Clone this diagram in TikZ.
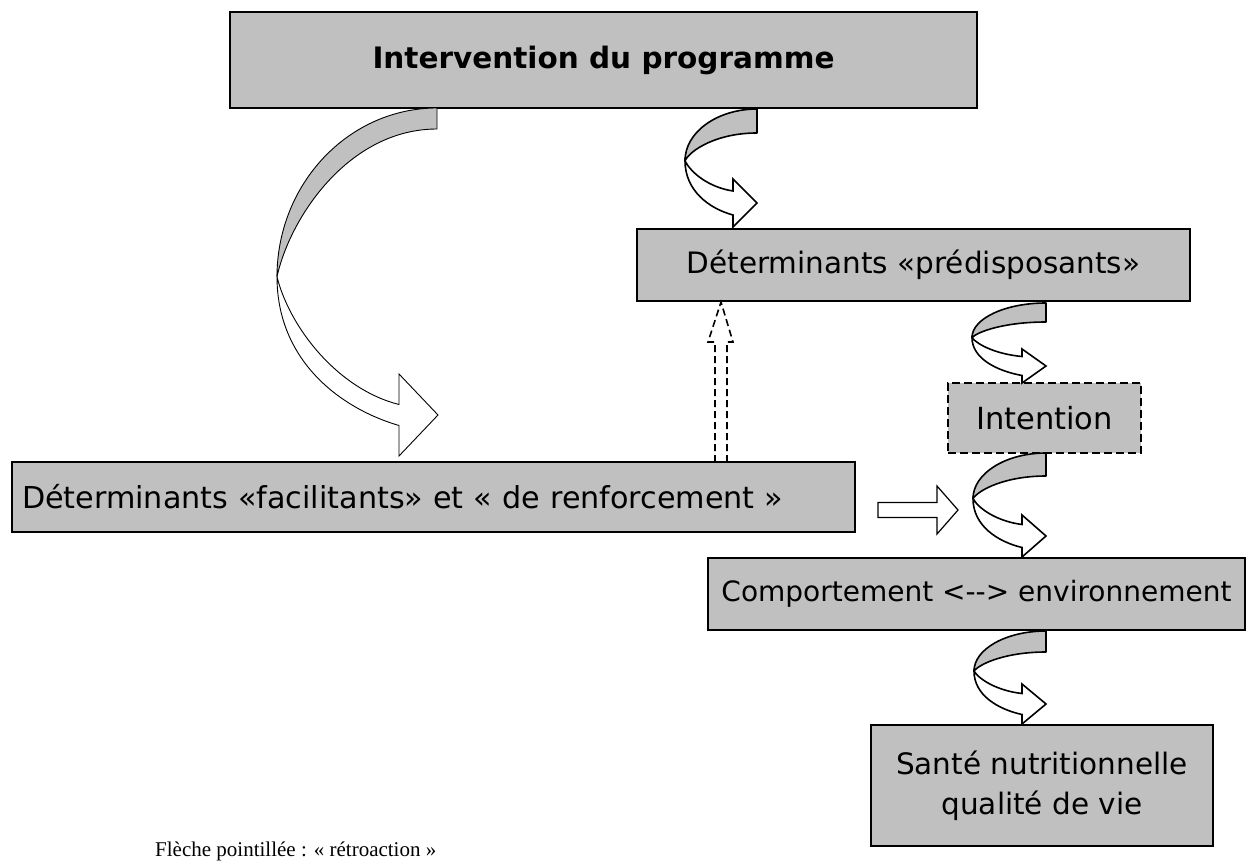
\documentclass[tikz,border=0pt]{standalone}
\usepackage{fontspec}
\setmainfont{DejaVu Sans}
\newfontfamily\notefont{Liberation Serif}
\usetikzlibrary{calc}
\definecolor{boxgray}{HTML}{C0C0C0}

\tikzset{
  box/.style={draw=black, line width=1.7pt, fill=boxgray, inner sep=0pt,
    font=\fontsize{29.5}{40}\selectfont},
  dashedbox/.style={box, dash pattern=on 8pt off 4pt, line width=1.5pt},
  ribgray/.style={draw=black, fill=boxgray, line join=round},
  ribwhite/.style={draw=black, fill=white, line join=miter},
  blockarrow/.style={draw=black, fill=white, line width=1.2pt, line join=miter},
  feedback/.style={draw=black, line width=1.6pt, dash pattern=on 7pt off 4pt},
}

% Twisted ribbon arrow: #1 tail corner, #2 tip, #3 bulge to the left,
% #4 band width, #5 head length, #6 head half-height, #7 line width
\newcommand\ribbon[7]{%
  \draw[ribgray, line width=#7] let \p1=(#1), \p2=(#2),
      \n1={\x1-#3}, \n2={\y1-0.55*(\y1-\y2)}, \n3={\y1-#4} in
    (\x1,\y1) .. controls ({\x1-0.552*#3},\y1) and (\n1,{\n2+0.552*(\y1-\n2)}) .. (\n1,\n2)
    .. controls ({\n1+0.08*#3},{\n2+0.4*(\n3-\n2)}) and ({\x1-0.552*#3},\n3) .. (\x1,\n3)
    -- cycle;
  \draw[ribwhite, line width=#7] let \p1=(#1), \p2=(#2),
      \n1={\x1-#3}, \n2={\y1-0.55*(\y1-\y2)}, \n4={\x2-#5},
      \n5={\y2-#4/2}, \n6={\y2+#4/2} in
    (\n1,\n2) .. controls (\n1,{\n2-0.552*(\n2-\n5)})
      and ({\n4-0.5*(\n4-\n1)},{\n5+0.12*(\n2-\n5)}) .. (\n4,\n5)
    -- (\n4,{\y2-#6}) -- (\x2,\y2) -- (\n4,{\y2+#6}) -- (\n4,\n6)
    .. controls ({\n4-0.5*(\n4-\n1)},{\n6+0.12*(\n2-\n6)})
      and ({\n1+0.08*#3},{\n2-0.4*(\n2-\n6)}) .. (\n1,\n2) -- cycle;
}

\begin{document}
\begin{tikzpicture}[x=1pt,y=-1pt]
\useasboundingbox (0,0) rectangle (1258,864);

% boxes
\node[box, minimum width=747pt, minimum height=96pt,
      font=\bfseries\fontsize{29.5}{35}\selectfont] (title) at (603.5,60) {Intervention du programme};
\node[box, minimum width=553pt, minimum height=72pt] (pred) at (913.5,265)
  {Déterminants «prédisposants»};
\node[dashedbox, minimum width=193pt, minimum height=70pt, font=\fontsize{30.5}{36}\selectfont]
  (intent) at (1044.5,418) {Intention};
\node[box, minimum height=70pt, text width=823pt, inner xsep=10pt, align=left,
      font=\fontsize{30.2}{36}\selectfont] (fac) at (433.5,497)
  {Déterminants «facilitants» et « de renforcement »};
\node[box, minimum width=537pt, minimum height=72pt, font=\fontsize{28}{34}\selectfont]
  (comp) at (976.5,594) {Comportement <-{}-> environnement};
\node[box, minimum width=342pt, minimum height=121pt, align=center] (sante) at (1042,785.5)
  {Santé nutritionnelle\\qualité de vie};

% ends of the ribbon arrows
\coordinate (r0s) at (437,108);  \coordinate (r0t) at (438,415);
\coordinate (r1s) at (757,109);  \coordinate (r1t) at (757,203);
\coordinate (r2s) at (1046,303); \coordinate (r2t) at (1046,366);
\coordinate (r3s) at (1046,453); \coordinate (r3t) at (1046,536);
\coordinate (r4s) at (1046,631); \coordinate (r4t) at (1046,704);

\ribbon{r0s}{r0t}{160}{21}{39}{41}{0.9pt}
\ribbon{r1s}{r1t}{72}{24}{24}{24}{1.6pt}
\ribbon{r2s}{r2t}{74}{19}{24}{17}{1.6pt}
\ribbon{r3s}{r3t}{73}{23}{24}{21}{1.6pt}
\ribbon{r4s}{r4t}{72}{21}{24}{20}{1.6pt}

% straight block arrow towards the behaviour ribbon
\coordinate (ba0) at (878,510);
\coordinate (ba1) at (958,510);
\draw[blockarrow] ($(ba0)+(0,-7.5)$) -- ($(ba1)+(-21,-7.5)$) -- ($(ba1)+(-21,-24)$)
  -- (ba1) -- ($(ba1)+(-21,24)$) -- ($(ba1)+(-21,7.5)$) -- ($(ba0)+(0,7.5)$) -- cycle;

% dashed feedback arrow
\coordinate (fb0) at (721,462);
\coordinate (fb1) at (721,302);
\draw[feedback] ($(fb0)+(-6,0)$) -- ($(fb0)+(-6,-120)$) -- ($(fb0)+(-13,-120)$)
  -- (fb1) -- ($(fb0)+(12,-120)$) -- ($(fb0)+(6,-120)$) -- ($(fb0)+(6,0)$);

% caption
\node[anchor=base west, inner sep=0pt, font=\notefont\fontsize{21}{25}\selectfont] (note) at (155,856)
  {Flèche pointillée : « rétroaction »};
\end{tikzpicture}
\end{document}
